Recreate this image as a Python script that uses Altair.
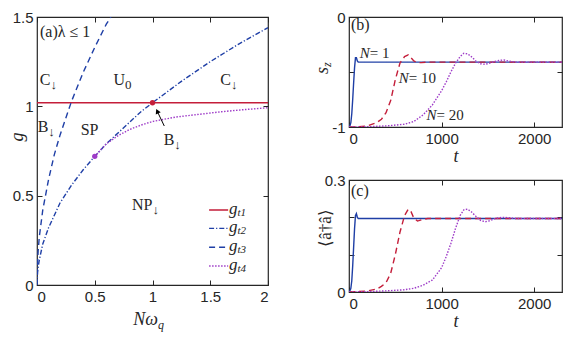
import altair as alt
import pandas as pd

# ---------------- panel (a): phase boundaries ----------------
gt1_x = [0.0, 2.0]
gt1_g = [1.02, 1.02]
gt2_x = [0, 0.005, 0.01, 0.02, 0.05, 0.1, 0.2, 0.3, 0.4, 0.5, 0.6, 0.75, 0.9, 1.0, 1.25, 1.5, 1.75, 2.0]
gt2_g = [0, 0.07, 0.10, 0.14, 0.23, 0.32, 0.46, 0.56, 0.645, 0.72, 0.79, 0.88, 0.97, 1.02, 1.14, 1.25, 1.35, 1.44]
gt3_x = [0, 0.005, 0.01, 0.02, 0.05, 0.1, 0.15, 0.2, 0.3, 0.4, 0.5, 0.6, 0.64]
gt3_g = [0, 0.13, 0.19, 0.27, 0.42, 0.59, 0.73, 0.84, 1.03, 1.19, 1.33, 1.46, 1.50]
gt4_x = [0.5, 0.6, 0.7, 0.8, 0.9, 1.0, 1.2, 1.4, 1.6, 1.8, 2.0]
gt4_g = [0.72, 0.79, 0.835, 0.87, 0.895, 0.915, 0.94, 0.955, 0.97, 0.982, 0.992]
dots_x = [1.0, 0.5]
dots_g = [1.02, 0.72]
dots_s = ["gt1", "gt4"]

series_a = ["gt1", "gt2", "gt3", "gt4"]
legend_sub = ["t1", "t2", "t3", "t4"]

region_main = ["C", "U", "C", "B", "SP", "B", "NP"]
region_sub = ["\u2193", "0", "\u2193", "\u2193", "", "\u2193", "\u2193"]

# ---------------- panels (b), (c): dynamics ----------------
N1_t = [0, 10, 20, 30, 40, 50, 60, 70, 80, 90, 100, 2300]
N1_sz = [-1, -0.99, -0.96, -0.88, -0.75, -0.6, -0.46, -0.37, -0.37, -0.40, -0.41, -0.41]
N1_n = [0, 0.003, 0.01, 0.03, 0.07, 0.12, 0.17, 0.205, 0.21, 0.2, 0.197, 0.197]
N10_t = [0, 100, 200, 300, 350, 400, 450, 500, 550, 600, 640, 670, 700, 740, 780, 850, 2300]
N10_sz = [-1, -0.998, -0.99, -0.96, -0.93, -0.87, -0.76, -0.57, -0.42, -0.36, -0.345, -0.37, -0.40, -0.415, -0.415, -0.41, -0.41]
N10_n = [0, 0.001, 0.003, 0.008, 0.015, 0.025, 0.05, 0.10, 0.16, 0.205, 0.222, 0.215, 0.198, 0.19, 0.193, 0.197, 0.197]
N20_t = [0, 200, 400, 600, 700, 800, 900, 1000, 1050, 1100, 1150, 1200, 1240, 1280, 1320, 1370, 1420, 1470, 1520, 1570, 1620, 1670, 1720, 1800, 2300]
N20_sz = [-1, -0.998, -0.99, -0.975, -0.95, -0.89, -0.80, -0.67, -0.59, -0.50, -0.42, -0.36, -0.33, -0.335, -0.36, -0.40, -0.425, -0.43, -0.42, -0.405, -0.395, -0.39, -0.40, -0.41, -0.41]
N20_n = [0, 0.001, 0.003, 0.006, 0.010, 0.018, 0.032, 0.065, 0.095, 0.13, 0.17, 0.205, 0.22, 0.222, 0.215, 0.203, 0.192, 0.188, 0.191, 0.196, 0.199, 0.2, 0.199, 0.197, 0.197]
series_bc = ["1", "10", "20"]

# ---------------- styles / layout ----------------
SERIF = "Liberation Serif"
SANS = "Liberation Sans"
INK = "#262626"
RED, BLUE, PURPLE = "#C41E3A", "#1F3FA6", "#9E3CC8"

W_A, H_A = 231, 268
W_R, H_B, H_C = 213, 110, 112
XA, YA = [0, 2], [0, 1.5]
TB, YB, YC = [0, 2300], [-1, 0], [0, 0.3]

df_a = pd.concat([
    pd.DataFrame({"x": gt1_x, "g": gt1_g, "s": "gt1"}),
    pd.DataFrame({"x": gt2_x, "g": gt2_g, "s": "gt2"}),
    pd.DataFrame({"x": gt3_x, "g": gt3_g, "s": "gt3"}),
    pd.DataFrame({"x": gt4_x, "g": gt4_g, "s": "gt4"}),
], ignore_index=True)
df_dots = pd.DataFrame({"x": dots_x, "g": dots_g, "s": dots_s})
df_leg = pd.DataFrame({"s": series_a, "sub": legend_sub,
                       "y": [0.42, 0.317, 0.211, 0.106],
                       "x0": 1.49, "x1": 1.655, "xt": 1.735})
df_reg = pd.DataFrame({"main": region_main, "sub": region_sub,
                       "x": [0.117, 0.762, 1.68, 0.098, 0.532, 1.189, 1.0],
                       "g": [1.147, 1.147, 1.147, 0.886, 0.867, 0.811, 0.448]})
df_arrow = pd.DataFrame({"x": [1.102, 1.045], "g": [0.89, 0.967]})
df_head = pd.DataFrame({"x": [1.041], "g": [0.973]})
df_one = pd.DataFrame({"k": [0]})

df_bc = pd.concat([
    pd.DataFrame({"t": N1_t, "sz": N1_sz, "n": N1_n, "N": "1"}),
    pd.DataFrame({"t": N10_t, "sz": N10_sz, "n": N10_n, "N": "10"}),
    pd.DataFrame({"t": N20_t, "sz": N20_sz, "n": N20_n, "N": "20"}),
], ignore_index=True)
df_blab = pd.DataFrame({"m": ["N", "N", "N"], "r": [" = 1", " = 10", " = 20"],
                        "t": [224, 646, 945], "sz": [-0.325, -0.557, -0.89]})

col_a = alt.Scale(domain=series_a, range=[RED, BLUE, BLUE, PURPLE])
dash_a = alt.Scale(domain=series_a, range=[[1, 0], [5, 2, 1.2, 2], [6, 4], [1.5, 1.5]])
col_bc = alt.Scale(domain=series_bc, range=[BLUE, RED, PURPLE])
dash_bc = alt.Scale(domain=series_bc, range=[[1, 0], [6, 4], [1.5, 1.5]])


def ax(orient, values, labels=True, fmt=None, expr=None, title=None):
    kw = dict(orient=orient, values=values, offset=-5, tickSize=5, domain=False,
              grid=False, labelPadding=4, labels=labels)
    if fmt:
        kw["format"] = fmt
    if expr:
        kw["labelExpr"] = expr
    if title:
        kw.update(title=title, titleFont=SERIF, titleFontStyle="italic",
                  titleFontWeight="normal", titleFontSize=18, titlePadding=1, titleColor=INK)
    else:
        kw["title"] = None
    return alt.Axis(**kw)


def X(field, dom, axis=None):
    return alt.X(f"{field}:Q", scale=alt.Scale(domain=dom, nice=False, zero=False), axis=axis)


def Y(field, dom, axis=None):
    return alt.Y(f"{field}:Q", scale=alt.Scale(domain=dom, nice=False, zero=False), axis=axis)


def txt(df, **kw):
    base = dict(font=SERIF, fontSize=16, color=INK, baseline="middle")
    base.update(kw)
    return alt.Chart(df).mark_text(**base)


# ---------------- panel (a) ----------------
xt_a = [0, 0.5, 1, 1.5, 2]
yt_a = [0, 0.5, 1, 1.5]
lines_a = alt.Chart(df_a).mark_line(strokeWidth=1.4, clip=True).encode(
    x=X("x", XA, ax("bottom", xt_a, fmt="~g")),
    y=Y("g", YA, ax("left", yt_a, fmt="~g")),
    color=alt.Color("s:N", scale=col_a, legend=None),
    strokeDash=alt.StrokeDash("s:N", scale=dash_a, legend=None),
)
mirror_a = alt.Chart(df_a).mark_point(opacity=0).encode(
    x=X("x", XA, ax("top", xt_a, labels=False)),
    y=Y("g", YA, ax("right", yt_a, labels=False)),
)
dots_a = alt.Chart(df_dots).mark_point(filled=True, size=28, opacity=1).encode(
    x=X("x", XA), y=Y("g", YA), color=alt.Color("s:N", scale=col_a, legend=None))
leg_lines = alt.Chart(df_leg).mark_rule(strokeWidth=1.4).encode(
    x=X("x0", XA), x2="x1:Q", y=Y("y", YA),
    color=alt.Color("s:N", scale=col_a, legend=None),
    strokeDash=alt.StrokeDash("s:N", scale=dash_a, legend=None))
leg_g = txt(df_leg, align="right", fontStyle="italic", fontSize=17, text="g", dy=-1).encode(
    x=X("xt", XA), y=Y("y", YA))
leg_sub = txt(df_leg, align="left", fontStyle="italic", fontSize=11, dy=3).encode(
    x=X("xt", XA), y=Y("y", YA), text="sub:N")
reg_main = txt(df_reg, align="right").encode(x=X("x", XA), y=Y("g", YA), text="main:N")
reg_sub = txt(df_reg, align="left", fontSize=13, dy=5).encode(x=X("x", XA), y=Y("g", YA), text="sub:N")
title_a = txt(df_one, align="left", text="(a)\u03bb \u2264 1").encode(
    x=alt.value(3), y=alt.value(15))
arrow_line = alt.Chart(df_arrow).mark_line(color="black", strokeWidth=1).encode(
    x=X("x", XA), y=Y("g", YA))
arrow_head = alt.Chart(df_head).mark_point(shape="triangle-up", filled=True, size=30,
                                           color="black", opacity=1, angle=335).encode(
    x=X("x", XA), y=Y("g", YA))
ylab_a = txt(df_one, angle=270, fontStyle="italic", fontSize=18, text="g").encode(
    x=alt.value(-19), y=alt.value(120))
xlab_a1 = txt(df_one, align="right", fontStyle="italic", fontSize=18, text="N\u03c9").encode(
    x=alt.value(121), y=alt.value(H_A + 35))
xlab_a2 = txt(df_one, align="left", fontStyle="italic", fontSize=12, text="q", dy=5).encode(
    x=alt.value(121), y=alt.value(H_A + 35))

panel_a = alt.layer(
    mirror_a, lines_a, dots_a, leg_lines, leg_g, leg_sub, reg_main, reg_sub,
    title_a, arrow_line, arrow_head, ylab_a, xlab_a1, xlab_a2,
).resolve_axis(x="independent", y="independent").properties(width=W_A, height=H_A)


# ---------------- panels (b), (c) ----------------
xt_r = [0, 1000, 2000]


def right_panel(col, ydom, yvals, expr, h, extra):
    lines = alt.Chart(df_bc).mark_line(strokeWidth=1.4, clip=True).encode(
        x=X("t", TB, ax("bottom", xt_r, fmt="d", title="t")),
        y=Y(col, ydom, ax("left", yvals, expr=expr)),
        color=alt.Color("N:N", scale=col_bc, legend=None),
        strokeDash=alt.StrokeDash("N:N", scale=dash_bc, legend=None),
        order="t:Q",
    )
    mirror = alt.Chart(df_bc).mark_point(opacity=0).encode(
        x=X("t", TB, ax("top", xt_r, labels=False)),
        y=Y(col, ydom, ax("right", yvals, labels=False)),
    )
    return alt.layer(mirror, lines, *extra).resolve_axis(
        x="independent", y="independent").properties(width=W_R, height=h)


b_extra = [
    txt(df_one, align="left", text="(b)").encode(x=alt.value(2), y=alt.value(8)),
    txt(df_blab, align="right", fontStyle="italic", fontSize=15, text="N").encode(
        x=X("t", TB), y=Y("sz", YB)),
    txt(df_blab, align="left", fontSize=15).encode(x=X("t", TB), y=Y("sz", YB), text="r:N"),
    txt(df_one, angle=270, align="right", fontStyle="italic", fontSize=18, text="s").encode(
        x=alt.value(-26), y=alt.value(50)),
    txt(df_one, angle=270, align="left", fontStyle="italic", fontSize=12, text="z", dy=4).encode(
        x=alt.value(-26), y=alt.value(50)),
]
c_extra = [
    txt(df_one, align="left", text="(c)").encode(x=alt.value(2), y=alt.value(11)),
    txt(df_one, angle=270, align="center", fontSize=17,
        text="\u27e8\u00e2\u2020\u00e2\u27e9").encode(x=alt.value(-23), y=alt.value(48)),
]

panel_b = right_panel("sz", YB, [-1, -0.5, 0],
                      "datum.value == -1 ? '-1' : (datum.value == 0 ? '0' : '')", H_B, b_extra)
panel_c = right_panel("n", YC, [0, 0.1, 0.2, 0.3],
                      "datum.value == 0 ? '0' : (datum.value == 0.3 ? '0.3' : '')", H_C, c_extra)

chart = alt.hconcat(
    panel_a, alt.vconcat(panel_b, panel_c, spacing=6), spacing=41
).resolve_scale(
    color="independent", strokeDash="independent"
).properties(
    padding={"left": 0, "top": 1, "right": 0, "bottom": 0}
).configure_view(
    stroke=INK, strokeWidth=1.2
).configure_axis(
    labelFont=SANS, labelFontSize=15, labelColor=INK, tickColor=INK, tickWidth=1
)

chart.save("out.html", embed_options={"renderer": "svg", "actions": False})
